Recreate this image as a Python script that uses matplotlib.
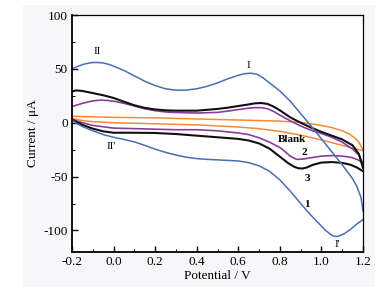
import matplotlib
matplotlib.use("Agg")
import matplotlib.pyplot as plt
from matplotlib.patches import Rectangle

# ---- data (potential in V, current in µA) ----
blue_fwd_x = [-0.2, -0.17, -0.14, -0.11, -0.08, -0.05, -0.02, 0.0, 0.05, 0.1, 0.15, 0.2, 0.25, 0.3,
              0.35, 0.4, 0.45, 0.5, 0.55, 0.6, 0.63, 0.66, 0.69, 0.72, 0.75, 0.8, 0.85, 0.9, 0.95,
              1.0, 1.05, 1.1, 1.15, 1.17, 1.19, 1.2]
blue_fwd_y = [50, 52.5, 54.5, 55.7, 56, 55.5, 54, 52.5, 48.5, 43.5, 38.5, 34.5, 31.5, 30.2,
              30.3, 31.5, 33.8, 37, 40.8, 44, 45.5, 46, 45, 41.5, 37, 29.5, 20, 8.5, -3,
              -15, -27, -39, -52, -59, -69, -82]
blue_rev_x = [1.2, 1.17, 1.14, 1.11, 1.08, 1.065, 1.05, 1.02, 1.0, 0.95, 0.9, 0.85, 0.8, 0.75,
              0.7, 0.65, 0.6, 0.55, 0.5, 0.45, 0.4, 0.35, 0.3, 0.25, 0.2, 0.15, 0.1, 0.05, 0.0,
              -0.05, -0.1, -0.15, -0.18, -0.2]
blue_rev_y = [-90, -94, -99, -103, -105.5, -105.5, -104.5, -100, -96, -86, -75, -63.5, -53, -45,
              -40, -37, -35.5, -35, -34.5, -34, -33.3, -32, -30, -27.5, -24.5, -21, -17.8, -15.5, -13.5,
              -11, -7.5, -3.5, -0.5, 3]

black_fwd_x = [-0.2, -0.18, -0.15, -0.1, -0.05, 0.0, 0.05, 0.1, 0.15, 0.2, 0.25, 0.3, 0.4, 0.5, 0.55,
               0.6, 0.65, 0.68, 0.71, 0.74, 0.77, 0.8, 0.85, 0.9, 0.95, 1.0, 1.05, 1.1, 1.15, 1.18, 1.2]
black_fwd_y = [29, 30, 29.5, 27.5, 25.5, 23, 19.5, 16.2, 13.8, 12.3, 11.5, 11.2, 11.2, 12.8, 14,
               15.5, 17, 18, 18.3, 17.5, 15, 11.5, 5, 0, -4.5, -8.5, -12, -15.5, -21, -29, -42]
black_rev_x = [1.2, 1.17, 1.14, 1.1, 1.05, 1.0, 0.96, 0.93, 0.91, 0.89, 0.87, 0.84, 0.8, 0.75,
               0.7, 0.65, 0.6, 0.5, 0.4, 0.3, 0.2, 0.1, 0.0, -0.05, -0.1, -0.15, -0.2]
black_rev_y = [-45, -41.5, -39, -37.3, -36.5, -37, -39, -41.5, -42.5, -42.3, -41, -37.5, -31.5, -24,
               -19.2, -16.5, -15, -13.5, -12, -10.5, -9.5, -9.3, -9.3, -8, -5.5, -2, 3]

purple_fwd_x = [-0.2, -0.15, -0.1, -0.06, -0.03, 0.0, 0.05, 0.1, 0.15, 0.2, 0.25, 0.3, 0.4, 0.5, 0.55,
                0.6, 0.65, 0.68, 0.71, 0.74, 0.77, 0.8, 0.85, 0.9, 0.95, 1.0, 1.05, 1.1, 1.15, 1.18, 1.2]
purple_fwd_y = [15, 18, 20.3, 21, 20.7, 20, 18, 15.5, 13, 11.2, 10, 9.5, 9, 9.6, 10.8,
                12.2, 13.5, 14, 14, 13, 10.5, 7, 1.8, -3, -7, -10, -13.5, -18, -24.5, -30, -38]
purple_rev_x = [1.2, 1.17, 1.14, 1.1, 1.05, 1.0, 0.95, 0.91, 0.88, 0.85, 0.82, 0.8, 0.75, 0.7, 0.65,
                0.6, 0.5, 0.4, 0.3, 0.2, 0.1, 0.0, -0.1, -0.15, -0.2]
purple_rev_y = [-37, -34, -32, -31, -30.5, -31, -32.5, -33.8, -34, -31, -26, -23, -18, -14, -11,
                -9.5, -7.5, -6.5, -6.5, -6, -5.5, -5, -2.5, 0, 3]

blank_fwd_x = [-0.2, -0.1, 0.0, 0.2, 0.4, 0.6, 0.8, 0.9, 0.95, 1.0, 1.05, 1.1, 1.13, 1.16, 1.18, 1.2]
blank_fwd_y = [6, 5.5, 5, 4.5, 3.5, 2.5, 1.5, 0.3, -1, -2.5, -4.5, -7.5, -10, -14, -18, -25]
blank_rev_x = [1.2, 1.1, 1.0, 0.9, 0.8, 0.7, 0.6, 0.4, 0.2, 0.0, -0.1, -0.15, -0.2]
blank_rev_y = [-26, -21, -16, -11.5, -8, -5.5, -4, -2, -1, 0, 1, 2, 4]

x_ticks = [-0.2, 0.0, 0.2, 0.4, 0.6, 0.8, 1.0, 1.2]
x_tick_labels = ["-0.2", "0.0", "0.2", "0.4", "0.6", "0.8", "1.0", "1.2"]
y_ticks = [-100, -50, 0, 50, 100]
y_tick_labels = ["-100", "-50", "0", "50", "100"]

annotations = [("II", -0.08, 66, False), ("I", 0.65, 53, False), ("II'", -0.01, -22, False),
               ("I'", 1.075, -113, False), ("Blank", 0.86, -16, True), ("2", 0.92, -28, True),
               ("3", 0.93, -52, True), ("1", 0.93, -76, True)]

# ---- styling ----
plt.rcParams['font.family'] = ['Liberation Serif', 'DejaVu Serif']

W, H = 383, 289
fig = plt.figure(figsize=(W / 100, H / 100), dpi=100)
fig.patch.set_facecolor('white')
bg = Rectangle((23 / W, 2 / H), (375 - 23) / W, (284 - 2) / H,
               transform=fig.transFigure, facecolor='#f7f7f9',
               edgecolor='none', zorder=-10)
fig.patches.append(bg)
ax = fig.add_axes([72 / W, 1 - 252 / H, (363 - 72) / W, (252 - 15) / H])
ax.set_zorder(1)
ax.set_facecolor('white')

c_blue = '#4c6db5'
c_black = '#111111'
c_purple = '#8b3d9c'
c_orange = '#f28c38'

ax.plot(blank_fwd_x, blank_fwd_y, color=c_orange, lw=1.1)
ax.plot(blank_rev_x, blank_rev_y, color=c_orange, lw=1.1)
ax.plot(purple_fwd_x, purple_fwd_y, color=c_purple, lw=1.2)
ax.plot(purple_rev_x, purple_rev_y, color=c_purple, lw=1.2)
ax.plot(black_fwd_x, black_fwd_y, color=c_black, lw=1.5)
ax.plot(black_rev_x, black_rev_y, color=c_black, lw=1.5)
ax.plot(blue_fwd_x, blue_fwd_y, color=c_blue, lw=1.1)
ax.plot(blue_rev_x, blue_rev_y, color=c_blue, lw=1.1)

for txt, x, y, bold in annotations:
    ax.text(x, y, txt, ha='center', va='center', fontsize=8,
            fontweight='bold' if bold else 'normal')

ax.set_xlim(-0.2, 1.2)
ax.set_ylim(-120, 100)
ax.set_xticks(x_ticks)
ax.set_xticklabels(x_tick_labels)
ax.set_yticks(y_ticks)
ax.set_yticklabels(y_tick_labels)
ax.set_xticks([-0.1, 0.1, 0.3, 0.5, 0.7, 0.9, 1.1], minor=True)
ax.set_yticks([-75, -25, 25, 75], minor=True)
ax.tick_params(axis='both', which='major', direction='in', length=4, width=1,
               labelsize=9.5, pad=3)
ax.tick_params(axis='both', which='minor', direction='in', length=2, width=0.8)

for side in ['left', 'bottom']:
    ax.spines[side].set_linewidth(1.3)
for side in ['top', 'right']:
    ax.spines[side].set_linewidth(0.9)

ax.set_xlabel('Potential / V', fontsize=9.5, labelpad=1)
ax.set_ylabel('Current / μA', fontsize=9.5, labelpad=3)

fig.savefig('out.png', dpi=100)
